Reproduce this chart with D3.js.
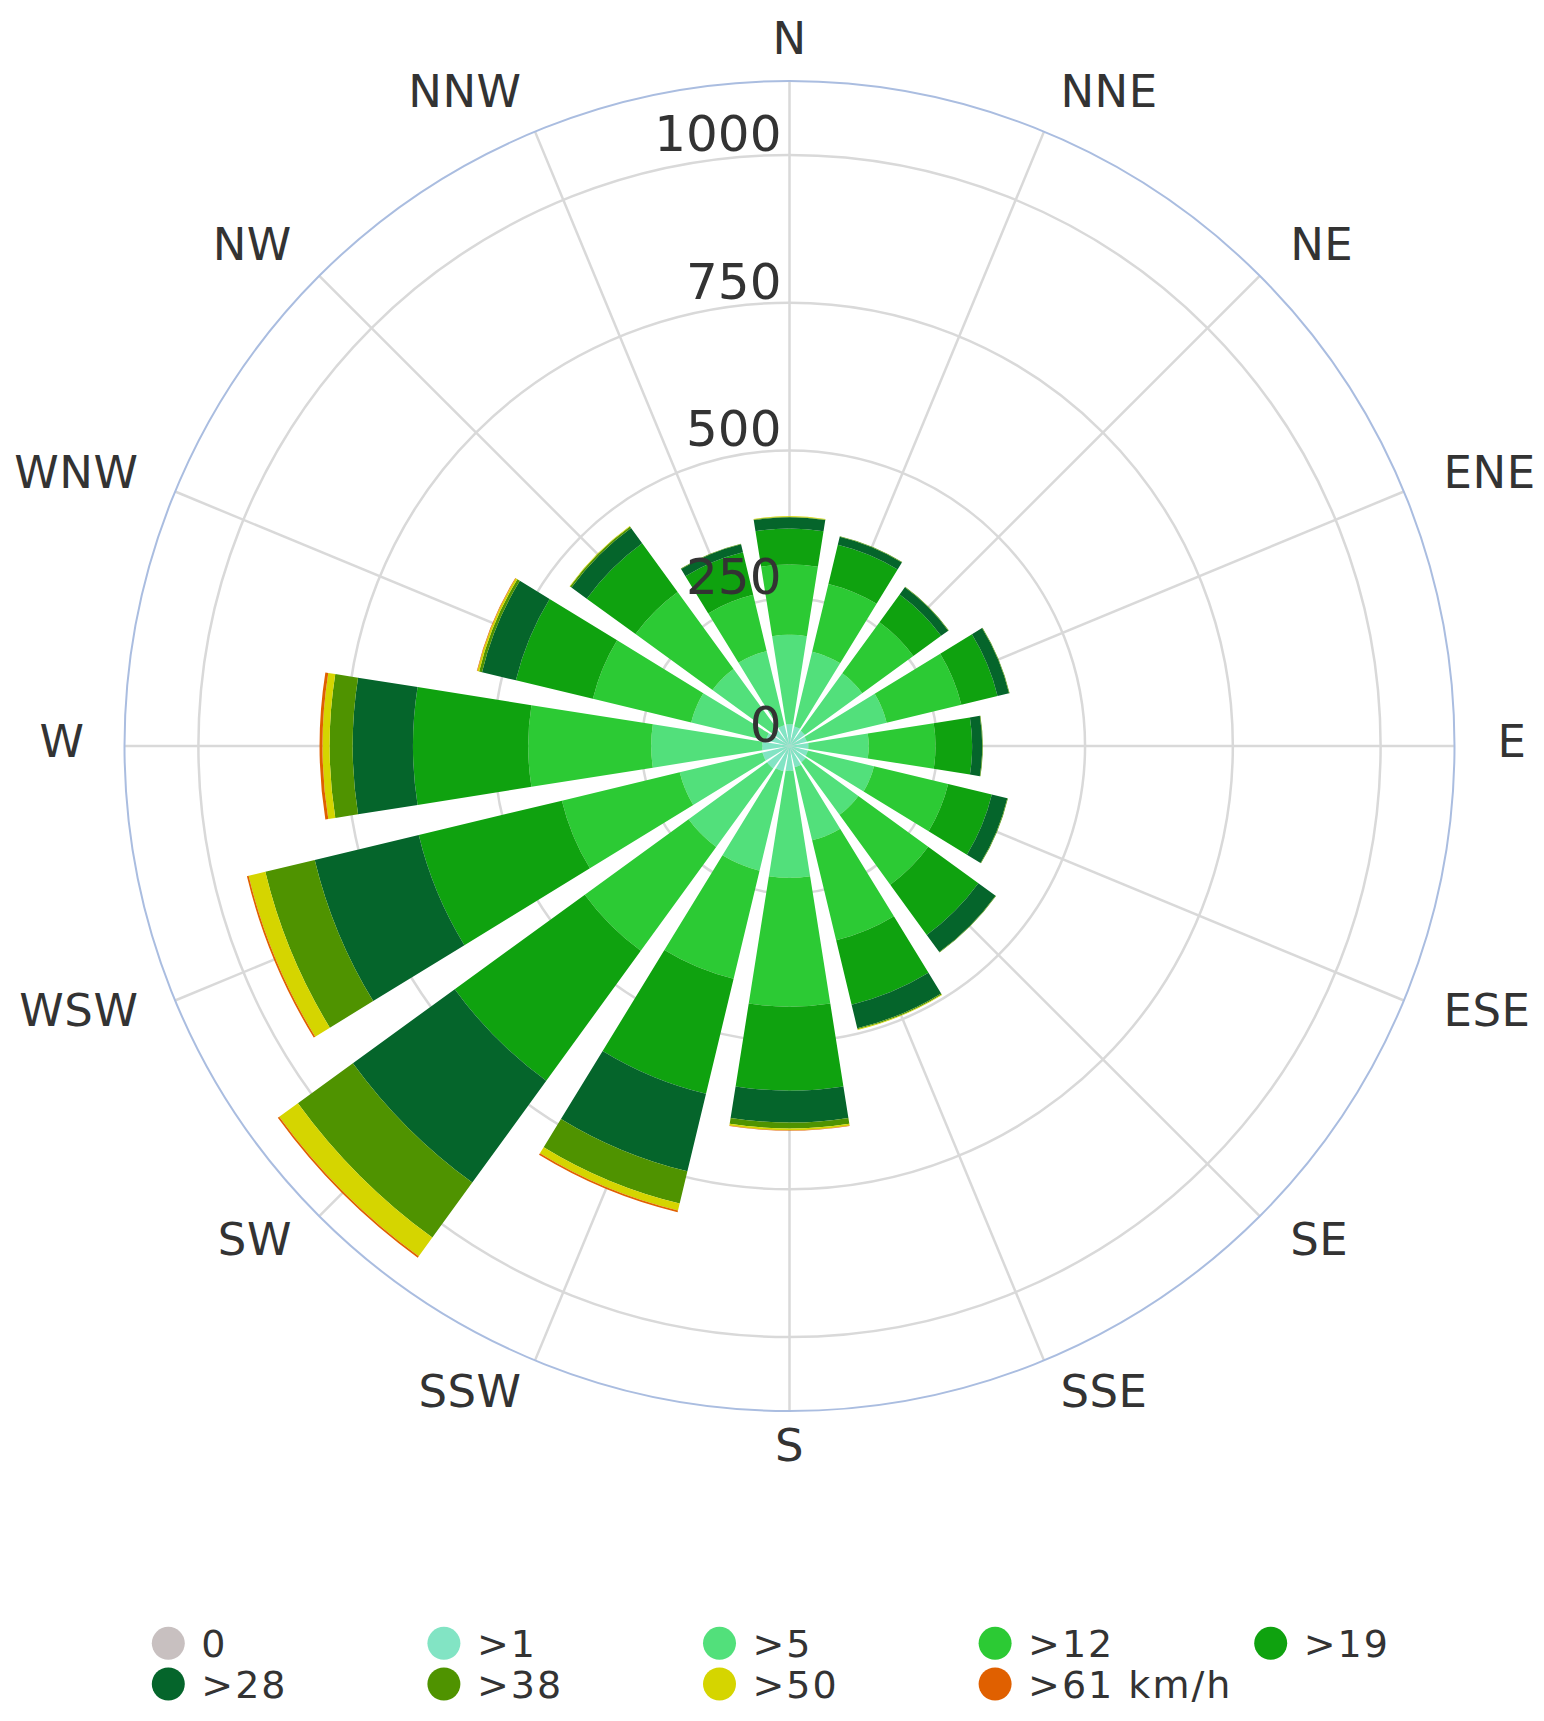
<!DOCTYPE html>
<html>
<head>
<meta charset="utf-8">
<script src="https://cdn.jsdelivr.net/npm/d3@7"></script>
<style>
  html, body { margin: 0; padding: 0; background: #ffffff; }
  svg { display: block; }
  text { font-family: "DejaVu Sans", Verdana, sans-serif; fill: #333333; }
</style>
</head>
<body>
<svg id="chart" width="1544" height="1721"></svg>
<script>
// ---- Data ----
const directions = ["N","NNE","NE","ENE","E","ESE","SE","SSE","S","SSW","SW","WSW","W","WNW","NW","NNW"];
const speedClasses = ["0", ">1", ">5", ">12", ">19", ">28", ">38", ">50", ">61 km/h"];
const classColors = ["#c8c0c0", "#82e4c4", "#52e07b", "#2cca34", "#0fa20f", "#05652b", "#4f9300", "#d5d500", "#e06000"];

const calm    = [0,0,0,0,0,0,0,0,0,0,0,0,0,0,0,0];
const over1   = [37,34,32,30,32,32,34,37,42,44,47,47,46,41,37,36];
const over5   = [151,130,120,139,102,115,110,127,181,173,164,144,188,130,124,129];
const over12  = [119,118,107,130,113,129,146,174,218,188,217,205,208,171,161,98];
const over19  = [61,68,58,63,62,76,105,112,142,200,272,249,195,134,102,74];
const over28  = [19,14,15,20,17,27,36,41,54,135,213,181,102,59,32,14];
const over38  = [1,1,1,1,1,1,1,2,10,56,115,86,39,5,3,1];
const over50  = [1,0,0,0,0,0,0,1,3,12,39,29,12,3,1,0];
const over61  = [0,0,0,0,0,0,0,0,1,3,3,3,5,1,0,0];

const radialTicks = [0, 250, 500, 750, 1000];
const radialMax = 1125;

// ---- Build table ----
const seriesValues = [calm, over1, over5, over12, over19, over28, over38, over50, over61];
const rows = directions.map((d, i) => {
  const row = { dir: d };
  speedClasses.forEach((k, j) => { row[k] = seriesValues[j][i]; });
  return row;
});

// ---- Layout ----
const svg = d3.select("#chart");
const cx = 789.5, cy = 746, outerR = 665;

const r = d3.scaleLinear().domain([0, radialMax]).range([0, outerR]);
const step = 2 * Math.PI / directions.length;
const angle = d3.scaleBand()
  .domain(directions)
  .range([-step / 2, 2 * Math.PI - step / 2])
  .paddingInner(0.2)
  .paddingOuter(0.1);
const color = d3.scaleOrdinal().domain(speedClasses).range(classColors);

const g = svg.append("g").attr("transform", `translate(${cx},${cy})`);

// grid circles
g.append("g").selectAll("circle")
  .data(radialTicks.filter(t => t > 0))
  .join("circle")
  .attr("r", d => r(d))
  .attr("fill", "none")
  .attr("stroke", "#d9d9d9")
  .attr("stroke-width", 2.5);

// radial grid lines
g.append("g").selectAll("line")
  .data(directions)
  .join("line")
  .attr("x1", 0).attr("y1", 0)
  .attr("x2", d => outerR * Math.sin(angle(d) + angle.bandwidth() / 2))
  .attr("y2", d => -outerR * Math.cos(angle(d) + angle.bandwidth() / 2))
  .attr("stroke", "#d9d9d9")
  .attr("stroke-width", 2.5);

// outer pane border
g.append("circle")
  .attr("r", outerR)
  .attr("fill", "none")
  .attr("stroke", "#aabde0")
  .attr("stroke-width", 2);

// stacked bars
const stacked = d3.stack().keys(speedClasses)(rows);
const arc = d3.arc()
  .innerRadius(d => r(d[0]))
  .outerRadius(d => r(d[1]))
  .startAngle(d => angle(d.data.dir))
  .endAngle(d => angle(d.data.dir) + angle.bandwidth())
  .padAngle(0);

g.append("g").selectAll("g")
  .data(stacked)
  .join("g")
  .attr("fill", d => color(d.key))
  .selectAll("path")
  .data(d => d.filter(p => p[1] > p[0]))
  .join("path")
  .attr("d", arc);

// radial axis labels
g.append("g").selectAll("text")
  .data(radialTicks)
  .join("text")
  .attr("x", -8)
  .attr("y", d => -r(d) - 4)
  .attr("text-anchor", "end")
  .attr("font-size", 50)
  .text(d => d);

// direction labels
const labelR = 708;
g.append("g").selectAll("text")
  .data(directions)
  .join("text")
  .each(function(d) {
    const a = angle(d) + angle.bandwidth() / 2;
    const s = Math.sin(a), c = Math.cos(a);
    const x = labelR * s + (s < -0.01 ? 3 : 0);
    const y = -labelR * c - 5 + 4.5 * c;
    const anchor = Math.abs(s) < 0.01 ? "middle" : (s > 0 ? "start" : "end");
    d3.select(this)
      .attr("x", x)
      .attr("y", y)
      .attr("dy", "0.36em")
      .attr("text-anchor", anchor)
      .attr("font-size", 45)
      .attr("letter-spacing", 0.5)
      .text(d);
  });

// legend
const legendCols = 5, colW = 275.6, legX0 = 168.3, legY0 = 1643.3, rowH = 40.7;
const legend = svg.append("g").selectAll("g")
  .data(speedClasses)
  .join("g")
  .attr("transform", (d, i) => `translate(${legX0 + (i % legendCols) * colW},${legY0 + Math.floor(i / legendCols) * rowH})`);
legend.append("circle")
  .attr("r", 16.5)
  .attr("fill", d => color(d));
legend.append("text")
  .attr("x", 33)
  .attr("y", 13.8)
  .attr("font-size", 38)
  .attr("letter-spacing", 2)
  .text(d => d);
</script>
</body>
</html>
